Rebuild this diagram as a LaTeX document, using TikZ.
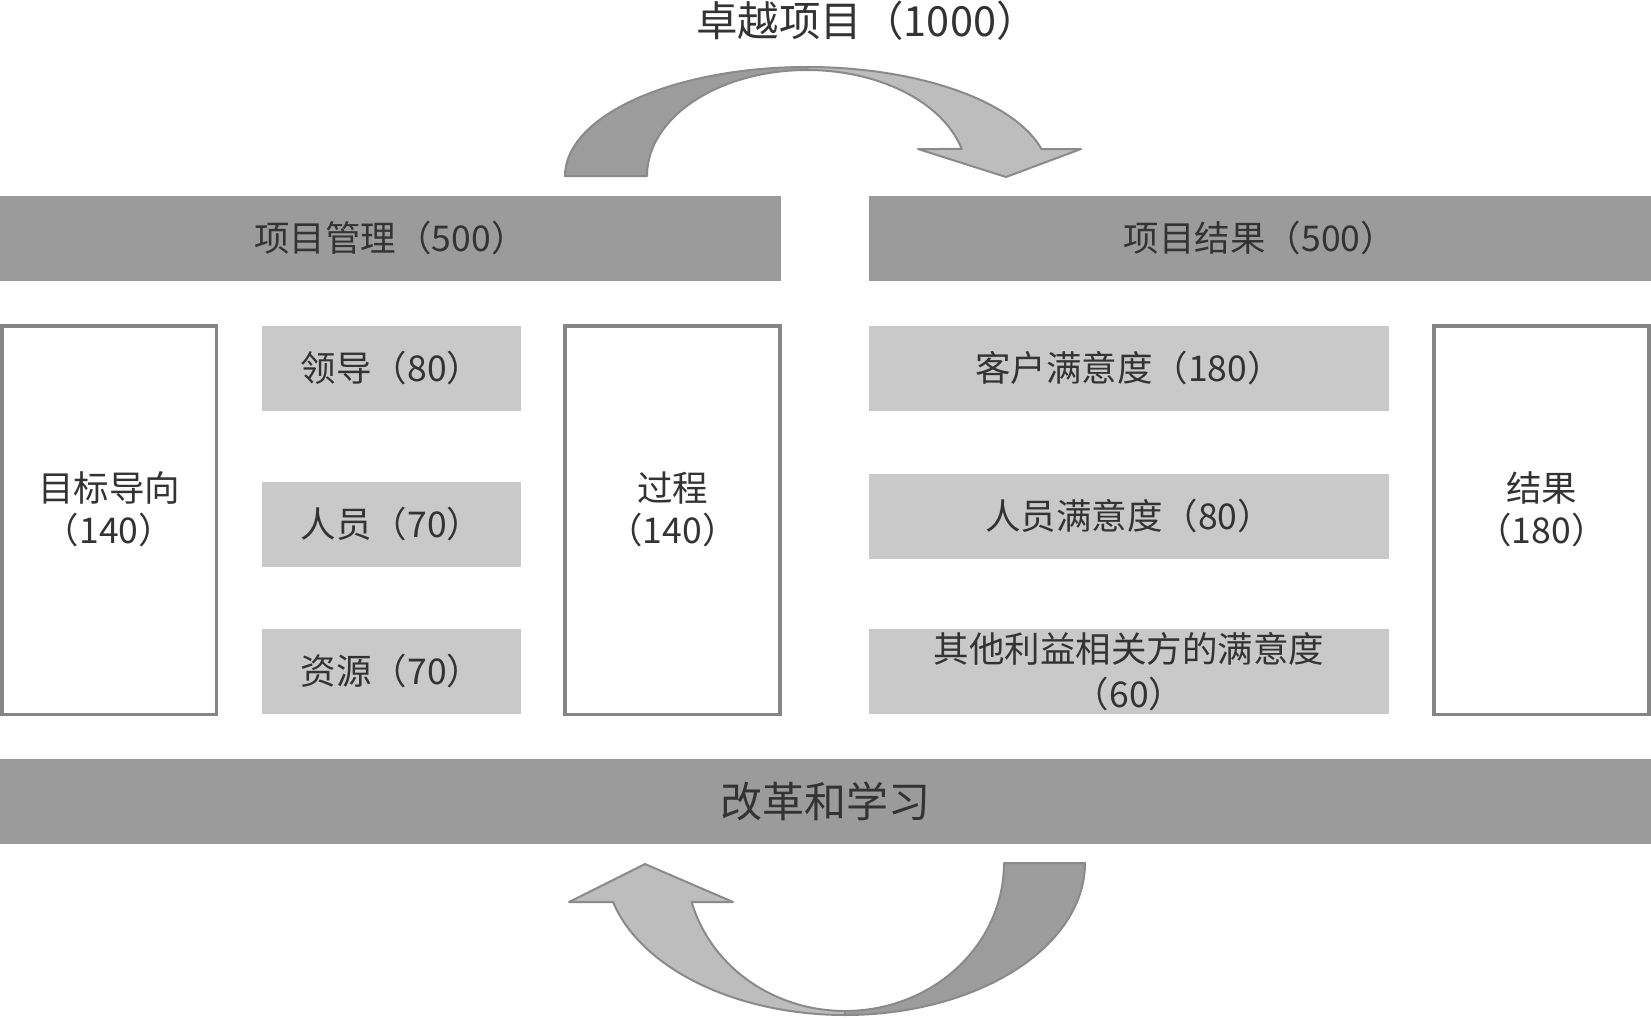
\documentclass[tikz,border=0pt]{standalone}
\usepackage{fontspec}
\setmainfont{Noto Sans CJK SC}
\definecolor{barc}{HTML}{9B9B9B}
\definecolor{boxc}{HTML}{C9C9C9}
\definecolor{edgec}{HTML}{858585}
\definecolor{txt}{HTML}{333333}
\definecolor{arrdark}{HTML}{9C9C9C}
\definecolor{arrlight}{HTML}{BDBDBD}
\definecolor{arredge}{HTML}{8A8A8A}
\begin{document}
\begin{tikzpicture}[x=1pt,y=-1pt,
  bar/.style={fill=barc, draw=none, minimum height=85pt, inner sep=0pt, text=txt,
    font=\fontsize{35.5}{40}\selectfont},
  greybox/.style={fill=boxc, draw=none, minimum height=85pt, inner sep=0pt, text=txt,
    align=center, font=\fontsize{35.5}{45}\selectfont},
  whitebox/.style={fill=white, draw=edgec, line width=3.5pt, minimum width=214.5pt,
    minimum height=388.5pt, inner sep=0pt},
  boxtext/.style={text=txt, align=center, inner sep=0pt, font=\fontsize{35.5}{42}\selectfont},
  arrowpart/.style={draw=arredge, line width=2pt, line join=round}
]
\useasboundingbox (0,0) rectangle (1651,1017);

% title
\node[text=txt, inner sep=0pt, font=\fontsize{41.5}{44}\selectfont] (title) at (867,21) {卓越项目（1000）};

% top curved arrow
\filldraw[arrowpart, fill=arrlight]
  plot[domain=90:14.34, samples=60] ({807+242*cos(\x)},{176-109*sin(\x)})
  -- (1081,149) -- (1006,177) -- (918,149)
  -- plot[domain=14.76:90, samples=60] ({807+160*cos(\x)},{176-106*sin(\x)}) -- cycle;
\filldraw[arrowpart, fill=arrdark]
  plot[domain=180:90, samples=60] ({807+242*cos(\x)},{176-109*sin(\x)})
  -- plot[domain=90:180, samples=60] ({807+160*cos(\x)},{176-106*sin(\x)}) -- cycle;

% header bars
\node[bar, minimum width=781pt] (pm) at (390.5,238.5) {项目管理（500）};
\node[bar, minimum width=782pt] (pr) at (1260,238.5) {项目结果（500）};

% left group
\node[whitebox] (goal) at (109,520) {};
\node[boxtext] (goalt) at (109,509) {目标导向\\（140）};
\node[greybox, minimum width=259pt] (lead) at (391.5,368.5) {领导（80）};
\node[greybox, minimum width=259pt] (staff) at (391.5,524.5) {人员（70）};
\node[greybox, minimum width=259pt] (res) at (391.5,671.5) {资源（70）};
\node[whitebox, minimum width=215pt] (proc) at (672.5,520) {};
\node[boxtext] (proct) at (672.5,509) {过程\\（140）};

% right group
\node[greybox, minimum width=520pt] (cust) at (1129,368.5) {客户满意度（180）};
\node[greybox, minimum width=520pt] (emp) at (1129,516) {人员满意度（80）};
\node[greybox, minimum width=520pt] (other) at (1129,671.5) {其他利益相关方的满意度\\（60）};
\node[whitebox, minimum width=215pt] (resb) at (1541.5,520) {};
\node[boxtext] (resbt) at (1541.5,509) {结果\\（180）};

% bottom bar
\node[bar, minimum width=1651pt, font=\fontsize{42}{46}\selectfont] (learn) at (825.5,801.5) {改革和学习};

% bottom curved arrow
\filldraw[arrowpart, fill=arrlight]
  plot[domain=90:165.13, samples=60] ({845+240*cos(\x)},{863+152*sin(\x)})
  -- (569,902) -- (645,864) -- (733,902)
  -- plot[domain=164.72:90, samples=60] ({845+159*cos(\x)},{863+148*sin(\x)}) -- cycle;
\filldraw[arrowpart, fill=arrdark]
  plot[domain=0:90, samples=60] ({845+240*cos(\x)},{863+152*sin(\x)})
  -- plot[domain=90:0, samples=60] ({845+159*cos(\x)},{863+148*sin(\x)}) -- cycle;
\end{tikzpicture}
\end{document}
